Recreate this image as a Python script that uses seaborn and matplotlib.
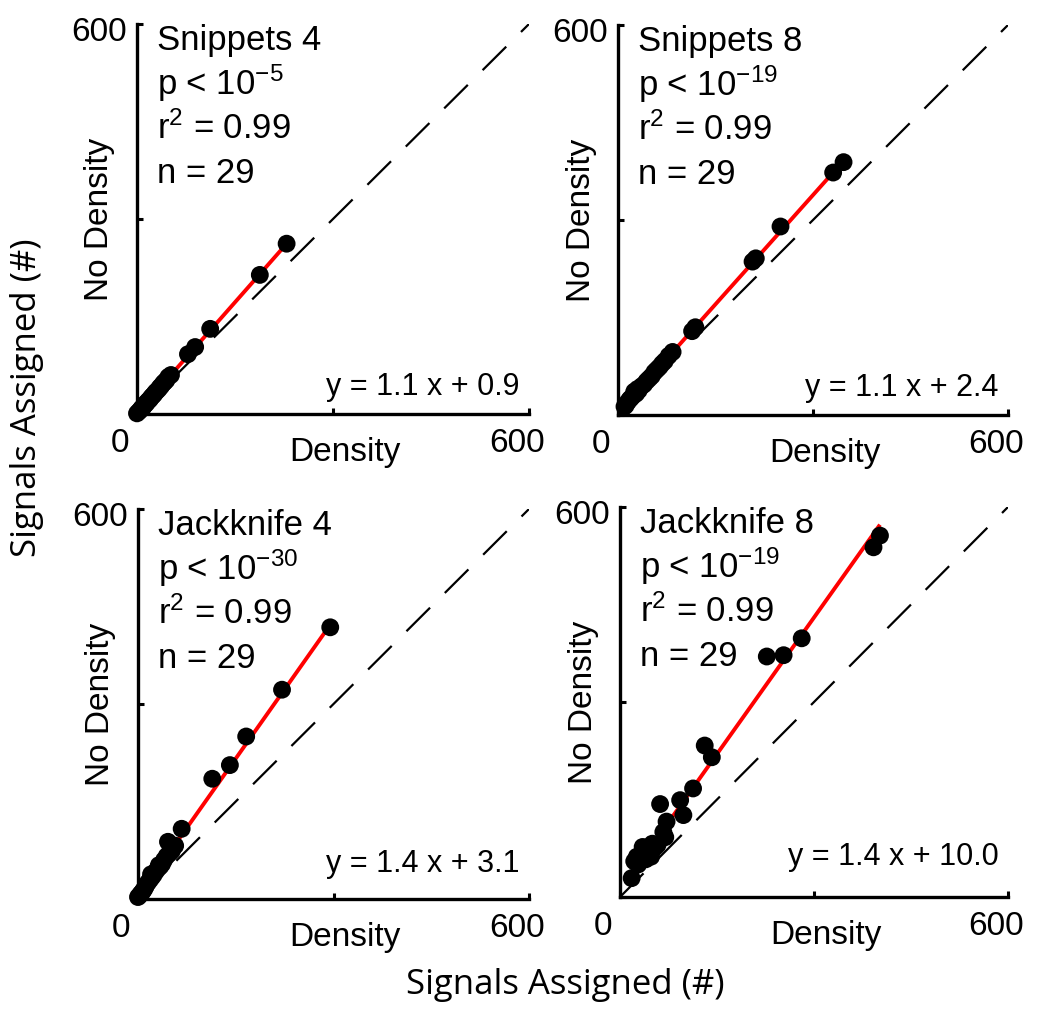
import matplotlib
matplotlib.use("Agg")

import numpy as np
import matplotlib.pyplot as plt
import matplotlib.transforms as mtransforms
import seaborn as sns

# Panel annotations
titles = ['Snippets 4', 'Snippets 8', 'Jackknife 4', 'Jackknife 8']
p_exps = ['-5', '-19', '-30', '-19']
r2_vals = ['0.99', '0.99', '0.99', '0.99']
n_vals = [29, 29, 29, 29]
eq_labels = ['y = 1.1 x + 0.9', 'y = 1.1 x + 2.4', 'y = 1.4 x + 3.1', 'y = 1.4 x + 10.0']

# fitted line (slope, intercept from the label)
fit_slope = [1.14, 1.12, 1.42, 1.40]
fit_icpt = [0.9, 2.4, 3.1, 10.0]

# Signals assigned: Density (x) vs No Density (y)
x_snip4 = [229, 188, 112, 89, 78, 48, 40, 0, 3, 5, 7, 9, 11, 12, 14, 16, 18, 20,
           22, 24, 26, 28, 30, 33, 35, 37, 42, 45, 52]
y_snip4 = [262, 214, 131, 103, 92, 57, 47, 1, 4, 6, 9, 10, 13, 15, 16, 19, 21, 23,
           26, 28, 30, 33, 35, 38, 41, 43, 49, 52, 60]

x_snip8 = [347, 331, 250, 212, 207, 119, 114, 84, 78, 72, 68, 64, 60, 56, 52, 48, 44,
           40, 36, 32, 28, 24, 20, 18, 15, 12, 10, 25, 30]
y_snip8 = [389, 373, 290, 241, 236, 135, 129, 97, 91, 83, 79, 74, 70, 66, 60, 56, 52,
           47, 44, 38, 33, 30, 26, 24, 20, 15, 13, 36, 40]

x_jack4 = [295, 221, 166, 141, 114, 67, 46, 57, 52, 48, 44, 40, 37, 34, 30, 27, 24,
           21, 18, 15, 12, 10, 8, 6, 4, 2, 0, 20, 32]
y_jack4 = [418, 322, 250, 206, 185, 108, 88, 82, 74, 70, 66, 60, 54, 50, 46, 42, 37,
           33, 29, 25, 20, 16, 13, 10, 8, 5, 3, 38, 52]

x_jack8 = [402, 392, 281, 253, 227, 131, 142, 113, 93, 98, 62, 72, 67, 70, 58, 54, 50,
           46, 42, 38, 34, 30, 26, 22, 40, 48, 35, 18, 28]
y_jack8 = [556, 538, 398, 372, 370, 233, 215, 167, 149, 126, 143, 116, 100, 92, 80, 76,
           82, 70, 74, 65, 68, 60, 62, 55, 58, 62, 77, 29, 50]

xs = [x_snip4, x_snip8, x_jack4, x_jack8]
ys = [y_snip4, y_snip8, y_jack4, y_jack8]

sns.set_style('ticks')
plt.rcParams['font.family'] = ['Liberation Sans', 'DejaVu Sans']
plt.rcParams['mathtext.fontset'] = 'custom'
plt.rcParams['mathtext.rm'] = 'Liberation Sans'
plt.rcParams['mathtext.it'] = 'Liberation Sans:italic'
plt.rcParams['lines.scale_dashes'] = False
plt.rcParams['text.color'] = 'black'
plt.rcParams['axes.labelcolor'] = 'black'

fig = plt.figure(figsize=(10.5, 10.19), dpi=100)

# axes boxes in figure fractions [left, bottom, width, height]
boxes = [
    [137 / 1050, 1 - 414 / 1019, 392 / 1050, 390 / 1019],
    [618 / 1050, 1 - 415 / 1019, 390 / 1050, 390 / 1019],
    [138 / 1050, 1 - 899 / 1019, 391 / 1050, 390 / 1019],
    [620 / 1050, 1 - 897 / 1019, 388 / 1050, 390 / 1019],
]
eq_y = [0.049, 0.049, 0.069, 0.082]

for i in range(4):
    ax = fig.add_axes(boxes[i])
    x = np.array(xs[i])
    y = np.array(ys[i])

    # identity line
    ax.plot([0, 600], [0, 600], color='black', lw=1.6, dashes=(24, 15), zorder=1)

    # regression line over the data range
    xl = np.array([x.min(), x.max()])
    ax.plot(xl, fit_slope[i] * xl + fit_icpt[i], color='#ff0000', lw=2.8, zorder=2,
            solid_capstyle='butt')

    sns.scatterplot(x=x, y=y, ax=ax, color='black', s=165, edgecolor='none',
                    zorder=3, clip_on=False, legend=False)

    ax.set_xlim(0, 600)
    ax.set_ylim(0, 600)
    ax.set_xticks([0, 300, 600])
    ax.set_xticklabels(['0', '', '600'])
    ax.set_yticks([0, 300, 600])
    ax.set_yticklabels(['', '', '600'])
    ax.tick_params(direction='in', length=4, width=2.2, labelsize=24, colors='black')
    ax.tick_params(axis='x', pad=10)
    ax.tick_params(axis='y', pad=7)
    xlabs = ax.get_xticklabels()
    shifts = [-17, 0, -12]
    for lab, dx in zip(xlabs, shifts):
        lab.set_transform(lab.get_transform() +
                          mtransforms.ScaledTranslation(dx / 100, 0, fig.dpi_scale_trans))
    for lab in ax.get_yticklabels():
        lab.set_transform(lab.get_transform() +
                          mtransforms.ScaledTranslation(0, -5 / 100, fig.dpi_scale_trans))
    for s in ['top', 'right']:
        ax.spines[s].set_visible(False)
    for s in ['left', 'bottom']:
        ax.spines[s].set_linewidth(2.4)
        ax.spines[s].set_color('black')
    ax.set_facecolor('white')

    ax.set_xlabel('Density', fontsize=24)
    ax.xaxis.set_label_coords(0.53, -0.06)
    ax.set_ylabel('No Density', fontsize=24)
    ax.yaxis.set_label_coords(-0.055, 0.5)

    lines = [titles[i],
             'p < 10$^{\\mathrm{' + p_exps[i] + '}}$',
             'r$^{\\mathrm{2}}$ = ' + r2_vals[i],
             'n = %d' % n_vals[i]]
    for txt, yy in zip(lines, [0.933, 0.818, 0.705, 0.592]):
        ax.text(0.051, yy, txt, transform=ax.transAxes, fontsize=25,
                ha='left', va='baseline')

    ax.text(0.975, eq_y[i], eq_labels[i], transform=ax.transAxes, fontsize=22,
            ha='right', va='baseline')

fig.text(565 / 1050, 1 - 985 / 1019, 'Signals Assigned (#)', ha='center', va='center',
         fontsize=25, family=['Open Sans', 'DejaVu Sans'])
fig.text(27 / 1050, 1 - 398 / 1019, 'Signals Assigned (#)', ha='center', va='center',
         rotation=90, fontsize=25, family=['Open Sans', 'DejaVu Sans'])

fig.savefig('out.png', dpi=100, facecolor='white')
